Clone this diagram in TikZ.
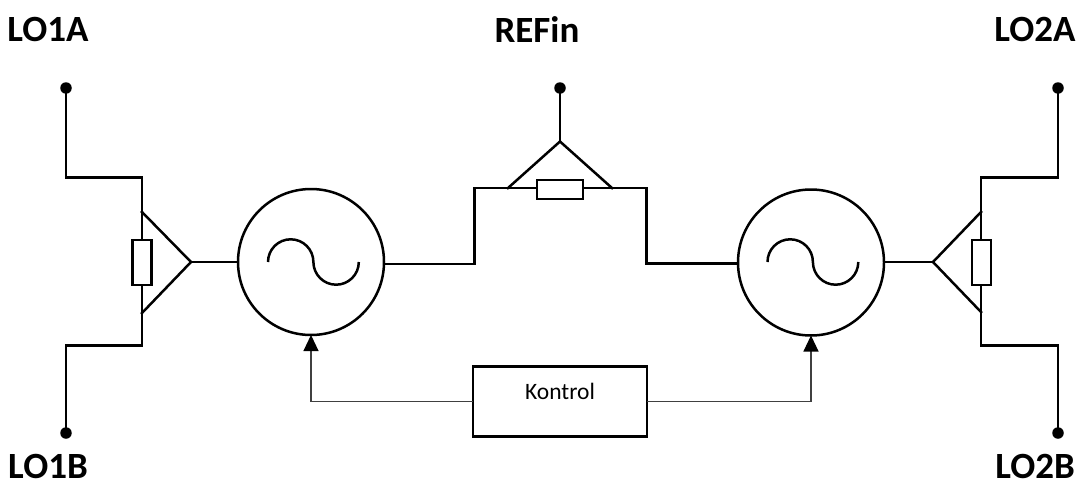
\documentclass[tikz,border=0pt]{standalone}
\usepackage{fontspec}
\setmainfont{Carlito}
\usetikzlibrary{arrows.meta}
\tikzset{
  x=1pt,y=-1pt,
  wire/.style={line width=2.5pt,line join=miter,line cap=rect},
  thinwire/.style={line width=1.1pt,draw=black!75},
  osc/.style={circle,draw,line width=2.5pt,minimum size=146pt,inner sep=0pt,outer sep=0pt},
  res/.style={rectangle,draw,line width=2.5pt,fill=white,inner sep=0pt,outer sep=0pt},
  ctrl/.style={rectangle,draw,line width=2.6pt,fill=white,minimum width=174pt,minimum height=70pt,inner sep=0pt,outer sep=0pt,font=\fontsize{23.5}{26}\selectfont},
  term/.style={circle,fill=black,minimum size=11.5pt,inner sep=0pt,outer sep=0pt},
  lbl/.style={font=\fontsize{37}{40}\selectfont\bfseries,inner sep=0pt},
  sine/.style={line width=2.5pt},
  tip/.style={-{Triangle[length=16pt,width=15pt,color=black]}}
}
\begin{document}
\begin{tikzpicture}
\useasboundingbox (0,0) rectangle (1077,482);
% terminals
\node[term] (t1a) at (66,88) {};
\node[term] (t1b) at (66,433) {};
\node[term] (t2a) at (1058,88) {};
\node[term] (t2b) at (1058,433) {};
\node[term] (tref) at (560,88) {};
% oscillators
\node[osc] (osc1) at (311,262) {};
\node[osc] (osc2) at (811,262.5) {};
% junction coordinates
\coordinate (la1) at (142,177.5);
\coordinate (la2) at (142,345.5);
\coordinate (lt1) at (142,212);
\coordinate (lt2) at (142,313);
\coordinate (lp) at (191,262);
\coordinate (ra1) at (981,177.5);
\coordinate (ra2) at (981,345.5);
\coordinate (rt1) at (981,212);
\coordinate (rt2) at (981,312);
\coordinate (rp) at (933,262);
\coordinate (mp) at (560,141.5);
\coordinate (ml) at (474.5,188);
\coordinate (mr) at (646.5,188);
\coordinate (mt1) at (508,188);
\coordinate (mt2) at (612,188);
% left splitter
\draw[wire] (t1a) |- (la1) -- (la2) -| (t1b);
\draw[wire] (lt1) -- (lp) -- (lt2);
\draw[wire] (lp) -- (osc1.west |- lp);
\node[res,minimum width=19pt,minimum height=45pt] (r1) at (142,262.5) {};
% right splitter
\draw[wire] (t2a) |- (ra1) -- (ra2) -| (t2b);
\draw[wire] (rt1) -- (rp) -- (rt2);
\draw[wire] (rp) -- (osc2.east |- rp);
\node[res,minimum width=19pt,minimum height=45pt] (r2) at (981.5,262.5) {};
% middle splitter
\draw[wire] (tref) -- (mp);
\draw[wire] (mt1) -- (mp) -- (mt2);
\draw[wire] (osc1.east |- 0,264) -- (ml |- 0,264) -- (ml) -- (mr) -- (mr |- 0,263.5) -- (osc2.west |- 0,263.5);
\node[res,minimum width=46pt,minimum height=19pt] (r3) at (560,189.5) {};
% sines
\draw[sine] (268,262) arc[start angle=180,end angle=0,radius=22.7pt] arc[start angle=180,end angle=360,radius=22.7pt];
\draw[sine] (767.5,262) arc[start angle=180,end angle=0,radius=22.7pt] arc[start angle=180,end angle=360,radius=22.7pt];
% control
\node[ctrl] (k) at (560,401.5) {\raisebox{20pt}{Kontrol}};
\draw[thinwire,tip] (k.west) -| (osc1.south);
\draw[thinwire,tip] (k.east) -| (osc2.south);
% labels
\node[lbl] (l1a) at (48,29) {LO1A};
\node[lbl] (l1b) at (48,466) {LO1B};
\node[lbl] (l2a) at (1035,29) {LO2A};
\node[lbl] (l2b) at (1035,466) {LO2B};
\node[lbl] (lref) at (537,30) {REFin};
\end{tikzpicture}
\end{document}
